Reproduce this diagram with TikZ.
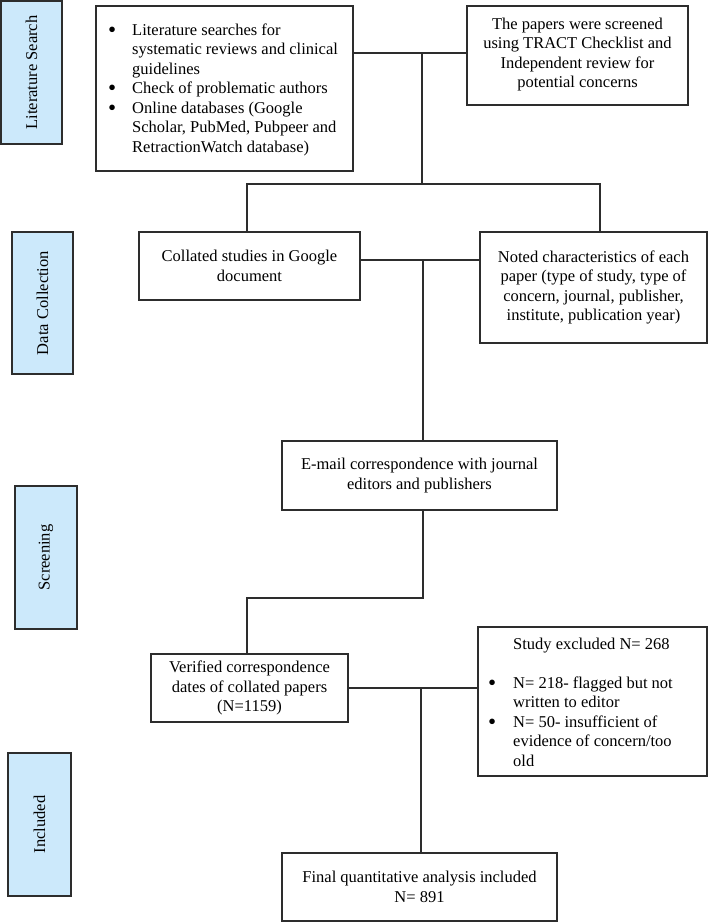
\documentclass[tikz,border=0pt]{standalone}
\usepackage{fontspec}
\setmainfont{Liberation Serif}
\definecolor{stagefill}{RGB}{204,233,251}
\definecolor{edge}{RGB}{45,45,45}
\newcommand{\bul}{\raisebox{-2pt}{\scalebox{1.4}{\textbullet}}}
\begin{document}
\begin{tikzpicture}[x=1pt,y=-1pt,
  every node/.style={font=\fontsize{16.5}{19.5}\selectfont, inner sep=0pt, text=black},
  flowbox/.style={draw=edge, line width=1.2pt, fill=white, align=center},
  stagebox/.style={draw=edge, line width=1.3pt, fill=stagefill},
  conn/.style={draw=edge, line width=1.2pt}]
\useasboundingbox (0,0) rectangle (709,922);
% boxes: corners given in pixels
\newcommand{\mkbox}[6]{%
  \node[#6, minimum width={(#4)-(#2)}, minimum height={(#5)-(#3)}] (#1) at ({((#2)+(#4))/2},{((#3)+(#5))/2}) {};}
% stage boxes
\mkbox{lit}{1}{1}{62}{144}{stagebox}
\mkbox{dc}{12}{232}{73}{374}{stagebox}
\mkbox{scr}{15}{486}{77}{629}{stagebox}
\mkbox{inc}{8}{753}{71}{896}{stagebox}
\node[rotate=90] at (lit.center) {Literature Search};
\node[rotate=90] at (dc.center) {Data Collection};
\node[rotate=90] at (scr.center) {Screening};
\node[rotate=90] at (inc.center) {Included};
% flow boxes
\mkbox{search}{96}{6}{353}{171}{flowbox}
\mkbox{tract}{467}{6}{688}{105}{flowbox}
\mkbox{coll}{139}{232}{360}{300}{flowbox}
\mkbox{noted}{480}{232}{707}{343}{flowbox}
\mkbox{email}{282}{441}{557}{510}{flowbox}
\mkbox{ver}{151}{654}{348}{722}{flowbox}
\mkbox{excl}{478}{627}{707}{776}{flowbox}
\mkbox{final}{282}{853}{557}{921}{flowbox}
% texts
\node[anchor=west] at (108,90) {\begin{tabular}{@{}p{24pt}@{}l@{}}
\bul & Literature searches for\\
 & systematic reviews and clinical\\
 & guidelines\\
\bul & Check of problematic authors\\
\bul & Online databases (Google\\
 & Scholar, PubMed, Pubpeer and\\
 & RetractionWatch database)
\end{tabular}};
\node[align=center] at ([yshift=1pt]tract.center) {The papers were screened\\using TRACT Checklist and\\Independent review for\\potential concerns};
\node[align=center] at (coll.center) {Collated studies in Google\\document};
\node[align=center] at (noted.center) {Noted characteristics of each\\paper (type of study, type of\\concern, journal, publisher,\\institute, publication year)};
\node[align=center] at (email.center) {E-mail correspondence with journal\\editors and publishers};
\node[align=center] at (ver.center) {Verified correspondence\\dates of collated papers\\(N=1159)};
\node[anchor=west] at (488,704) {\begin{tabular}{@{}p{25pt}@{}l@{}}
\multicolumn{2}{@{}l@{}}{\hspace{25pt}Study excluded N= 268}\\
 & \\
\bul & N= 218- flagged but not\\
 & written to editor\\
\bul & N= 50- insufficient of\\
 & evidence of concern/too\\
 & old
\end{tabular}};
\node[align=center] at (final.center) {Final quantitative analysis included\\N= 891};
% connectors
\coordinate (j1) at (422,53);
\coordinate (j2) at (422,184);
\coordinate (j2l) at (247,184);
\coordinate (j2r) at (600,184);
\coordinate (j3) at (423,260);
\coordinate (j4) at (423,598);
\coordinate (j4l) at (247,598);
\coordinate (j5) at (421,688);
\draw[conn] (search.east |- j1) -- (tract.west |- j1);
\draw[conn] (j1) -- (j2);
\draw[conn] (j2l |- coll.north) -- (j2l) -- (j2r) -- (j2r |- noted.north);
\draw[conn] (coll.east |- j3) -- (noted.west |- j3);
\draw[conn] (j3) -- (j3 |- email.north);
\draw[conn] (j4 |- email.south) -- (j4) -- (j4l) -- (j4l |- ver.north);
\draw[conn] (ver.east |- j5) -- (excl.west |- j5);
\draw[conn] (j5) -- (j5 |- final.north);
\end{tikzpicture}
\end{document}
